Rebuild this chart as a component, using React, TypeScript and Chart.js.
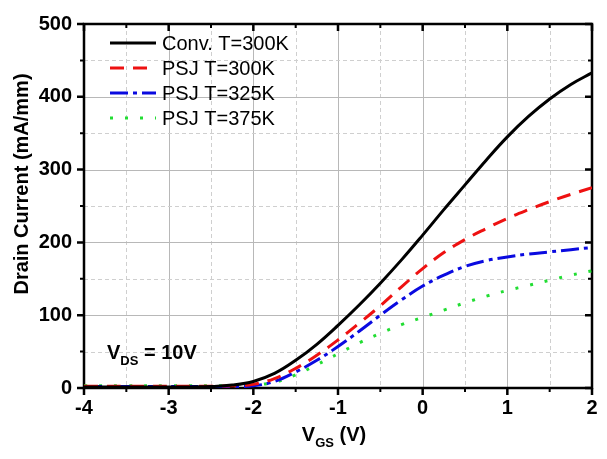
import React, { useEffect, useRef } from 'react';
import { Chart, registerables } from 'chart.js';

Chart.register(...registerables);

// Gate voltage V_GS (V)
const vgs = [-4, -3.5, -3, -2.75, -2.5, -2.25, -2, -1.75, -1.5, -1.25, -1, -0.75, -0.5, -0.25, 0, 0.25, 0.5, 0.75, 1, 1.25, 1.5, 1.75, 2];
// Drain current (mA/mm)
const convT300 = [1.5, 1.5, 1.5, 1.5, 2, 4, 9, 20, 38, 60, 86, 114, 144, 176, 210, 245, 279, 313, 345, 373, 397, 417, 433];
const psjT300 = [2.5, 2.5, 2.5, 2.5, 2.5, 3, 5, 13, 27, 45, 66, 89, 113, 139, 164, 186, 204, 219, 233, 245, 256, 266, 275];
const psjT325 = [2, 2, 2, 2, 2, 2, 3, 9, 22, 38, 57, 78, 100, 121, 140, 155, 167, 175, 180, 184, 187, 190, 193];
const psjT375 = [3, 3, 3, 3, 3, 3, 4, 8, 18, 32, 47, 62, 75, 87, 97, 107, 117, 126, 134, 141, 148, 155, 161];

const seriesLabels = ['Conv. T=300K', 'PSJ T=300K', 'PSJ T=325K', 'PSJ T=375K'];
const seriesColors = ['#000000', '#ee1111', '#0a0ae0', '#22dd33'];
const seriesDashes: number[][] = [[], [14, 9], [18, 5, 4, 5], [3, 12]];

const xMin = -4;
const xMax = 2;
const yMin = 0;
const yMax = 500;

const FONT = '"Liberation Sans", Arial, Helvetica, sans-serif';

const framePlugin = {
  id: 'frameAndGrid',
  beforeDatasetsDraw(chart: any) {
    const { ctx, chartArea: a, scales } = chart;
    const x = scales.x;
    const y = scales.y;
    ctx.save();
    // grid
    for (let v = xMin; v <= xMax + 1e-9; v += 0.5) {
      const px = Math.round(x.getPixelForValue(v)) + 0.5;
      const major = Math.abs(v - Math.round(v)) < 1e-9;
      ctx.beginPath();
      ctx.lineWidth = 1;
      ctx.strokeStyle = major ? '#b8b8b8' : '#cfcfcf';
      ctx.setLineDash(major ? [] : [4, 3]);
      ctx.moveTo(px, a.top);
      ctx.lineTo(px, a.bottom);
      ctx.stroke();
    }
    for (let v = yMin; v <= yMax + 1e-9; v += 50) {
      const py = Math.round(y.getPixelForValue(v)) + 0.5;
      const major = v % 100 === 0;
      ctx.beginPath();
      ctx.lineWidth = 1;
      ctx.strokeStyle = major ? '#b8b8b8' : '#cfcfcf';
      ctx.setLineDash(major ? [] : [4, 3]);
      ctx.moveTo(a.left, py);
      ctx.lineTo(a.right, py);
      ctx.stroke();
    }
    ctx.setLineDash([]);
    // ticks
    ctx.strokeStyle = '#000';
    for (let v = xMin; v <= xMax + 1e-9; v += 0.5) {
      const px = x.getPixelForValue(v);
      const major = Math.abs(v - Math.round(v)) < 1e-9;
      const len = major ? 7 : 4;
      ctx.lineWidth = major ? 2.5 : 2;
      ctx.beginPath();
      ctx.moveTo(px, a.bottom);
      ctx.lineTo(px, a.bottom + len);
      ctx.moveTo(px, a.top);
      ctx.lineTo(px, a.top + len);
      ctx.stroke();
    }
    for (let v = yMin; v <= yMax + 1e-9; v += 50) {
      const py = y.getPixelForValue(v);
      const major = v % 100 === 0;
      const len = major ? 7 : 4;
      ctx.lineWidth = major ? 2.5 : 2;
      ctx.beginPath();
      ctx.moveTo(a.left, py);
      ctx.lineTo(a.left - len, py);
      ctx.moveTo(a.right, py);
      ctx.lineTo(a.right - len, py);
      ctx.stroke();
    }
    // frame
    ctx.lineWidth = 2.5;
    ctx.strokeRect(a.left, a.top, a.right - a.left, a.bottom - a.top);
    ctx.restore();
  },
  afterDatasetsDraw(chart: any) {
    const { ctx, chartArea: a } = chart;
    ctx.save();
    // legend
    const rows = [43, 68, 93, 118];
    chart.data.datasets.forEach((ds: any, i: number) => {
      const ly = rows[i];
      ctx.beginPath();
      ctx.strokeStyle = ds.borderColor;
      ctx.lineWidth = ds.borderWidth;
      ctx.setLineDash(ds.borderDash || []);
      ctx.moveTo(110, ly);
      ctx.lineTo(156, ly);
      ctx.stroke();
      ctx.setLineDash([]);
      ctx.fillStyle = '#000';
      ctx.font = `20px ${FONT}`;
      ctx.textBaseline = 'middle';
      ctx.textAlign = 'left';
      ctx.fillText(ds.label, 162, ly + 1);
    });
    // V_DS annotation
    ctx.fillStyle = '#000';
    ctx.textBaseline = 'alphabetic';
    ctx.textAlign = 'left';
    let cx = 107;
    ctx.font = `bold 20px ${FONT}`;
    ctx.fillText('V', cx, 359);
    cx += ctx.measureText('V').width;
    ctx.font = `bold 13px ${FONT}`;
    ctx.fillText('DS', cx, 365);
    cx += ctx.measureText('DS').width;
    ctx.font = `bold 20px ${FONT}`;
    ctx.fillText(' = 10V', cx, 359);

    // x axis title V_GS (V)
    ctx.font = `bold 20px ${FONT}`;
    const wV = ctx.measureText('V').width;
    const wRest = ctx.measureText(' (V)').width;
    ctx.font = `bold 13px ${FONT}`;
    const wSub = ctx.measureText('GS').width;
    const total = wV + wSub + wRest;
    let tx = (a.left + a.right) / 2 - total / 2 - 4;
    ctx.font = `bold 20px ${FONT}`;
    ctx.fillText('V', tx, 441);
    tx += wV;
    ctx.font = `bold 13px ${FONT}`;
    ctx.fillText('GS', tx, 447);
    tx += wSub;
    ctx.font = `bold 20px ${FONT}`;
    ctx.fillText(' (V)', tx, 441);

    // y axis title
    ctx.save();
    ctx.translate(22, 184);
    ctx.rotate(-Math.PI / 2);
    ctx.textAlign = 'center';
    ctx.textBaseline = 'middle';
    ctx.font = `bold 20px ${FONT}`;
    ctx.fillText('Drain Current (mA/mm)', 0, 0);
    ctx.restore();

    ctx.restore();
  },
};

export default function App() {
  const ref = useRef<HTMLCanvasElement | null>(null);
  useEffect(() => {
    if (!ref.current) return;
    const series = [convT300, psjT300, psjT325, psjT375];
    const chart = new Chart(ref.current, {
      type: 'line',
      data: {
        datasets: series.map((vals, i) => ({
          label: seriesLabels[i],
          data: vgs.map((v, k) => ({ x: v, y: vals[k] })),
          borderColor: seriesColors[i],
          backgroundColor: seriesColors[i],
          borderWidth: 3,
          borderDash: seriesDashes[i],
          pointRadius: 0,
          tension: 0.4,
          fill: false,
        })),
      },
      options: {
        responsive: false,
        animation: false,
        events: [],
        layout: { padding: { left: 0, top: 13, right: 15, bottom: 0 } },
        plugins: {
          legend: { display: false },
          tooltip: { enabled: false },
        },
        scales: {
          x: {
            type: 'linear',
            min: xMin,
            max: xMax,
            afterFit: (s: any) => { s.height = 71; },
            grid: { display: false, drawTicks: false },
            border: { display: false },
            ticks: {
              stepSize: 1,
              padding: 8,
              color: '#000',
              font: { family: FONT, size: 20, weight: 'bold' },
              maxRotation: 0,
            },
          },
          y: {
            type: 'linear',
            min: yMin,
            max: yMax,
            afterFit: (s: any) => { s.width = 84; },
            grid: { display: false, drawTicks: false },
            border: { display: false },
            ticks: {
              stepSize: 100,
              padding: 12,
              color: '#000',
              font: { family: FONT, size: 20, weight: 'bold' },
            },
          },
        },
      },
      plugins: [framePlugin],
    } as any);
    return () => chart.destroy();
  }, []);
  return (
    <div style={{ position: 'fixed', left: 0, top: 0, width: 607, height: 459, background: '#fff' }}>
      <canvas ref={ref} width={607} height={459} style={{ width: 607, height: 459, display: 'block' }} />
    </div>
  );
}
